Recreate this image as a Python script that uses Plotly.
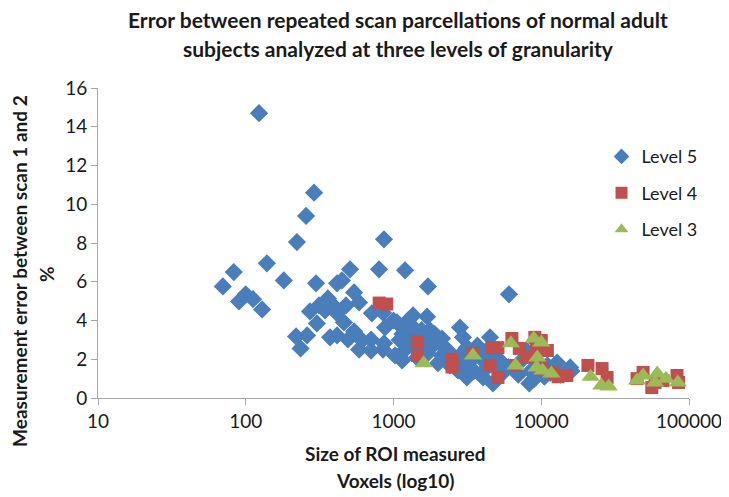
import plotly.graph_objects as go

# Level 5 (blue diamonds)
level5_x = [70, 83, 90, 100, 112, 129, 123, 139, 181, 222, 256, 290, 219, 235, 260, 272,
            299, 303, 313, 344, 360, 372, 402, 415, 415, 415, 448, 462, 477, 492, 508, 541,
            541, 585, 585, 612, 705, 705, 714, 798, 849, 862, 876, 850, 863, 1024, 1057, 1106,
            1143, 1197, 1197, 1230, 1356, 1356, 1440, 1687, 1711, 1766, 1849, 2130, 2130, 2410,
            2730, 2818, 2950, 3140, 3140, 3850, 4040, 4300, 4500, 4710, 5250, 6050, 7940, 8300,
            9770, 12800, 15700, 12000, 11000,
            1100, 1200, 1300, 1500, 1600, 1000, 1250, 1400, 1550, 2000, 2300, 2600, 3000, 3500,
            3700, 4200, 5500, 6000, 7000, 7500, 8500, 9000, 10500, 11500, 13500, 16000,
            1150, 1350, 1700, 1900, 2200, 2500, 2900, 3300, 4600, 5000]
level5_y = [5.76, 6.5, 4.98, 5.35, 5.1, 4.57, 14.7, 6.95, 6.07, 8.05, 9.4, 10.6, 3.18, 2.56, 3.23, 4.47,
            5.92, 3.85, 4.78, 4.52, 5.14, 3.13, 4.68, 4.37, 5.92, 3.23, 6.07, 3.9, 4.78, 3.02, 6.64, 5.45,
            3.44, 4.93, 2.5, 2.97, 3.02, 2.45, 4.37, 6.64, 2.5, 8.19, 3.64, 4.4, 2.82, 2.2, 3.9, 2.09,
            1.94, 6.59, 3.49, 2.71, 4.26, 3.49, 2.09, 4.2, 5.76, 3.49, 2.71, 3.07, 2.2, 1.68,
            1.42, 3.64, 3.13, 2.61, 1.06, 2.09, 1.06, 1.58, 3.13, 0.75, 1.94, 5.35, 2.45, 0.75,
            1.78, 1.83, 1.58, 1.5, 1.68,
            3.0, 2.5, 3.8, 2.4, 3.0, 4.0, 4.0, 2.8, 3.5, 1.8, 2.5, 2.0, 1.7, 1.4,
            2.7, 2.4, 1.3, 1.6, 1.2, 2.0, 1.4, 1.0, 1.1, 1.3, 1.2, 1.4,
            3.3, 3.1, 2.3, 3.3, 2.6, 2.2, 2.3, 1.9, 2.2, 1.5]

# Level 4 (red squares)
level4_x = [800, 900, 1450, 1450, 2490, 2490, 3450, 4500, 4650, 5090, 5090, 6330, 6700, 7100,
            9050, 10000, 11000, 9300, 10000, 14900, 13000, 20700, 25800, 27900, 44500, 48900,
            56000, 58900, 66700, 83000, 85000, 8000, 12000]
level4_y = [4.9, 4.85, 2.9, 2.2, 2.0, 1.6, 2.3, 1.68, 2.6, 1.06, 2.6, 3.07, 1.68, 2.56,
            3.13, 2.97, 2.45, 2.56, 1.52, 1.16, 1.1, 1.68, 1.52, 1.06, 1.0, 1.32,
            0.54, 0.8, 0.9, 1.16, 0.8, 2.1, 1.3]

# Level 3 (green triangles)
level3_x = [1600, 3450, 6230, 6700, 8900, 10000, 9400, 10200, 11700, 9300, 21600, 25500, 28600,
            44500, 48900, 58900, 61000, 69800, 84000]
level3_y = [1.8, 2.2, 2.82, 1.68, 3.07, 2.87, 2.09, 1.42, 1.26, 1.58, 1.1, 0.65, 0.6,
            0.9, 1.16, 0.8, 1.26, 1.0, 0.8]

y_ticks = [0, 2, 4, 6, 8, 10, 12, 14, 16]
x_ticks = [10, 100, 1000, 10000, 100000]
x_tick_labels = ["10", "100", "1000", "10000", "100000"]

title_lines = ["Error between repeated scan parcellations of normal adult",
               "subjects analyzed at three levels of granularity"]
x_title_lines = ["Size of ROI measured", "Voxels (log10)"]
y_title_lines = ["Measurement error between scan 1 and 2", "%"]

FONT = "Lato"
TXT = "#1a1a1a"

fig = go.Figure()
fig.add_trace(go.Scatter(x=level5_x, y=level5_y, mode="markers", name="Level 5", legendgroup="g5",
                         marker=dict(symbol="diamond", size=14, color="#4A7EBB")))
fig.add_trace(go.Scatter(x=level4_x, y=level4_y, mode="markers", name="Level 4", legendgroup="g4",
                         marker=dict(symbol="square", size=13, color="#C0504D")))
fig.add_trace(go.Scatter(x=level3_x, y=level3_y, mode="markers", name="Level 3", legendgroup="g3",
                         marker=dict(symbol="triangle-up", size=16, color="#9BBB59")))


def note(text, x, y, size, angle=0):
    return dict(text="<b>%s</b>" % text, x=x, y=y, xref="paper", yref="paper",
                xanchor="center", yanchor="middle", showarrow=False, textangle=angle,
                font=dict(family=FONT, size=size, color=TXT))


annotations = [
    note(title_lines[0], 0.508, 1.22, 21),
    note(title_lines[1], 0.508, 1.129, 21),
    note(x_title_lines[0], 0.503, -0.179, 19),
    note(x_title_lines[1], 0.503, -0.267, 19),
    note(y_title_lines[0], -0.132, 0.41, 19, -90),
    note(y_title_lines[1], -0.088, 0.40, 19, -90),
]

fig.update_layout(
    width=721, height=489,
    margin=dict(l=90, r=40, t=80, b=99),
    paper_bgcolor="white", plot_bgcolor="white",
    font=dict(family=FONT, size=18, color=TXT),
    showlegend=True,
    legend=dict(x=0.852, y=0.838, xanchor="left", yanchor="top", traceorder="grouped",
                font=dict(family=FONT, size=18, color=TXT),
                bgcolor="rgba(0,0,0,0)", itemsizing="constant", tracegroupgap=10),
    annotations=annotations,
    xaxis=dict(type="log", range=[1, 5], tickvals=x_ticks, ticktext=x_tick_labels,
               showgrid=False, zeroline=False, showline=True, linecolor="#A6A6A6", linewidth=1,
               ticks="outside", ticklen=6, tickcolor="#A6A6A6", automargin=False,
               tickfont=dict(family=FONT, size=19, color=TXT)),
    yaxis=dict(range=[0, 16], tickvals=y_ticks,
               showgrid=False, zeroline=False, showline=True, linecolor="#A6A6A6", linewidth=1,
               ticks="outside", ticklen=6, tickcolor="#A6A6A6", automargin=False,
               tickfont=dict(family=FONT, size=19, color=TXT)),
)

fig.write_html("out.html")
